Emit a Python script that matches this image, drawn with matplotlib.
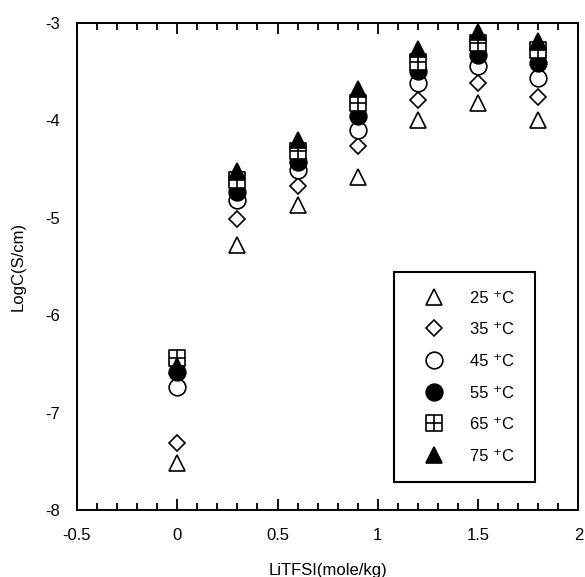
import numpy as np
import matplotlib
matplotlib.use("Agg")
import matplotlib.pyplot as plt
from matplotlib.path import Path

plt.rcParams['font.family'] = ['Liberation Sans', 'DejaVu Sans']

# concentracion de LiTFSI (mole/kg)
conc = [0.0, 0.3, 0.6, 0.9, 1.2, 1.5, 1.8]

# LogC a cada temperatura
logc_25 = [-7.52, -5.28, -4.87, -4.58, -4.00, -3.83, -4.00]
logc_35 = [-7.31, -5.01, -4.68, -4.27, -3.79, -3.62, -3.76]
logc_45 = [-6.74, -4.82, -4.51, -4.10, -3.62, -3.45, -3.57]
logc_55 = [-6.58, -4.74, -4.43, -3.96, -3.50, -3.33, -3.42]
logc_65 = [-6.44, -4.62, -4.32, -3.83, -3.40, -3.21, -3.28]
logc_75 = [-6.52, -4.52, -4.21, -3.68, -3.27, -3.10, -3.19]

labels = ['25 \u207aC', '35 \u207aC', '45 \u207aC', '55 \u207aC', '65 \u207aC', '75 \u207aC']

# cuadrado con cruz
sq_cross = Path([(-1, -1), (1, -1), (1, 1), (-1, 1), (-1, -1),
                 (0, -1), (0, 1), (-1, 0), (1, 0)],
                [Path.MOVETO, Path.LINETO, Path.LINETO, Path.LINETO, Path.CLOSEPOLY,
                 Path.MOVETO, Path.LINETO, Path.MOVETO, Path.LINETO])

series = [
    (logc_25, '^', 'white', 11.5),
    (logc_35, 'D', 'white', 8.5),
    (logc_45, 'o', 'white', 12),
    (logc_55, 'o', 'black', 12),
    (logc_65, sq_cross, 'white', 12),
    (logc_75, '^', 'black', 11.5),
]

fig = plt.figure(figsize=(5.85, 5.77), dpi=100)
ax = fig.add_axes([0.1316, 0.116, 0.857, 0.845])

for (vals, mk, fc, ms), lab in zip(series, labels):
    ax.plot(conc, vals, linestyle='none', marker=mk, markersize=ms,
            markerfacecolor=fc, markeredgecolor='black', markeredgewidth=1.2,
            label=lab)

ax.set_xlim(-0.5, 2.0)
ax.set_ylim(-8, -3)
ax.set_xticks([-0.5, 0, 0.5, 1, 1.5, 2])
ax.set_xticklabels(['-0.5', '0', '0.5', '1', '1.5', '2'])
ax.set_xticks(np.arange(-0.5, 2.01, 0.1), minor=True)
ax.set_yticks([-8, -7, -6, -5, -4, -3])
ax.set_yticklabels(['-8', '-7', '-6', '-5', '-4', '-3'])

ax.tick_params(axis='x', which='major', direction='in', top=True, length=8, width=1.3, labelsize=12, pad=13)
ax.tick_params(axis='x', which='minor', direction='in', top=True, length=5, width=1.3)
ax.tick_params(axis='y', which='both', length=0, labelsize=12, pad=12)

for s in ax.spines.values():
    s.set_linewidth(1.4)

ax.set_xlabel('LiTFSI(mole/kg)', fontsize=12, labelpad=14)
ax.set_ylabel('LogC(S/cm)', fontsize=12, labelpad=14)

leg = ax.legend(loc='lower left', bbox_to_anchor=(0.633, 0.057, 0.281, 0.4),
                mode='expand', fontsize=12, labelspacing=1.0, borderpad=1.1,
                handlelength=2.6, handletextpad=0.85, fancybox=False,
                edgecolor='black', framealpha=1, borderaxespad=0)
leg.get_frame().set_linewidth(1.5)

fig.savefig('out.png', dpi=100)
